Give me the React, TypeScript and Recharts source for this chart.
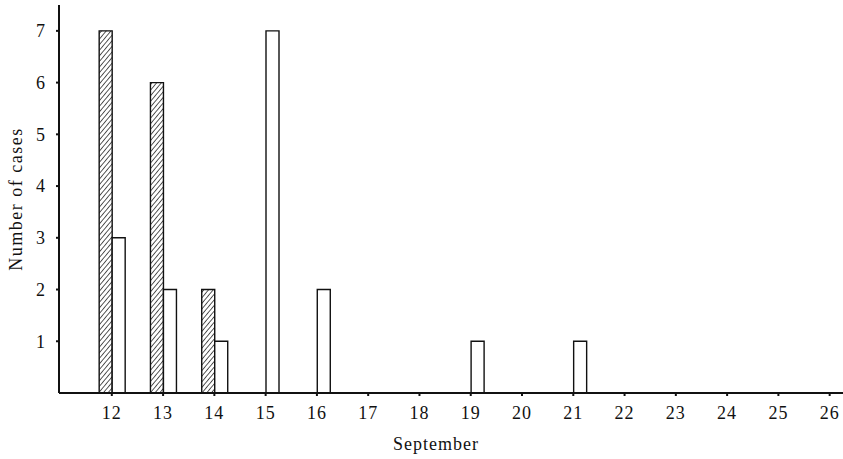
import React from 'react';
import { BarChart, Bar, XAxis, YAxis, Label } from 'recharts';

// cases by day of onset, September
const days = [12, 13, 14, 15, 16, 19, 21];
const hatchedCases = [7, 6, 2, 0, 0, 0, 0];
const openCases = [3, 2, 1, 7, 2, 1, 1];
const xTicks = [12, 13, 14, 15, 16, 17, 18, 19, 20, 21, 22, 23, 24, 25, 26];
const yTicks = [1, 2, 3, 4, 5, 6, 7];

const data = days.map((d, i) => ({ day: d, hatched: hatchedCases[i], open: openCases[i] }));

const font = '"Liberation Serif", "DejaVu Serif", serif';
const ink = '#111';

export default function App() {
  return (
    <div style={{ position: 'absolute', left: 0, top: 0, background: '#fff' }}>
      <BarChart
        width={843}
        height={459}
        data={data}
        margin={{ top: 5, right: 0, left: 0, bottom: 0 }}
        barGap={0}
        barSize={13}
      >
        <defs>
          <pattern id="hatch" patternUnits="userSpaceOnUse" width={3.6} height={3.6} patternTransform="rotate(40)">
            <rect width={3.6} height={3.6} fill="#fff" />
            <line x1={0} y1={0} x2={0} y2={3.6} stroke={ink} strokeWidth={1.4} />
          </pattern>
        </defs>
        <XAxis
          dataKey="day"
          type="number"
          domain={[10.97, 26.26]}
          allowDataOverflow
          ticks={xTicks}
          interval={0}
          height={66}
          tickSize={3}
          tickMargin={10}
          axisLine={{ stroke: ink, strokeWidth: 2 }}
          tickLine={{ stroke: ink, strokeWidth: 2 }}
          tick={{ fill: ink, fontSize: 18, fontFamily: font, letterSpacing: 1 }}
        >
          <Label
            content={({ viewBox }: any) => (
              <text
                x={viewBox.x + viewBox.width / 2 - 15}
                y={viewBox.y + 57}
                textAnchor="middle"
                fill={ink}
                fontSize={18}
                fontFamily={font}
                letterSpacing={1}
              >
                September
              </text>
            )}
          />
        </XAxis>
        <YAxis
          type="number"
          domain={[0, 7.5]}
          allowDataOverflow
          ticks={yTicks}
          interval={0}
          width={59}
          tickSize={3}
          tickMargin={11}
          axisLine={{ stroke: ink, strokeWidth: 2 }}
          tickLine={{ stroke: ink, strokeWidth: 2 }}
          tick={{ fill: ink, fontSize: 18, fontFamily: font }}
        >
          <Label
            content={({ viewBox }: any) => {
              const cx = 16;
              const cy = viewBox.y + viewBox.height / 2;
              return (
                <text
                  x={cx}
                  y={cy}
                  transform={`rotate(-90 ${cx} ${cy})`}
                  textAnchor="middle"
                  dominantBaseline="central"
                  fill={ink}
                  fontSize={18}
                  fontFamily={font}
                  letterSpacing={1.5}
                >
                  Number of cases
                </text>
              );
            }}
          />
        </YAxis>
        <Bar dataKey="hatched" fill="url(#hatch)" stroke={ink} strokeWidth={1.4} isAnimationActive={false} />
        <Bar dataKey="open" fill="#fff" stroke={ink} strokeWidth={1.4} isAnimationActive={false} />
      </BarChart>
    </div>
  );
}
